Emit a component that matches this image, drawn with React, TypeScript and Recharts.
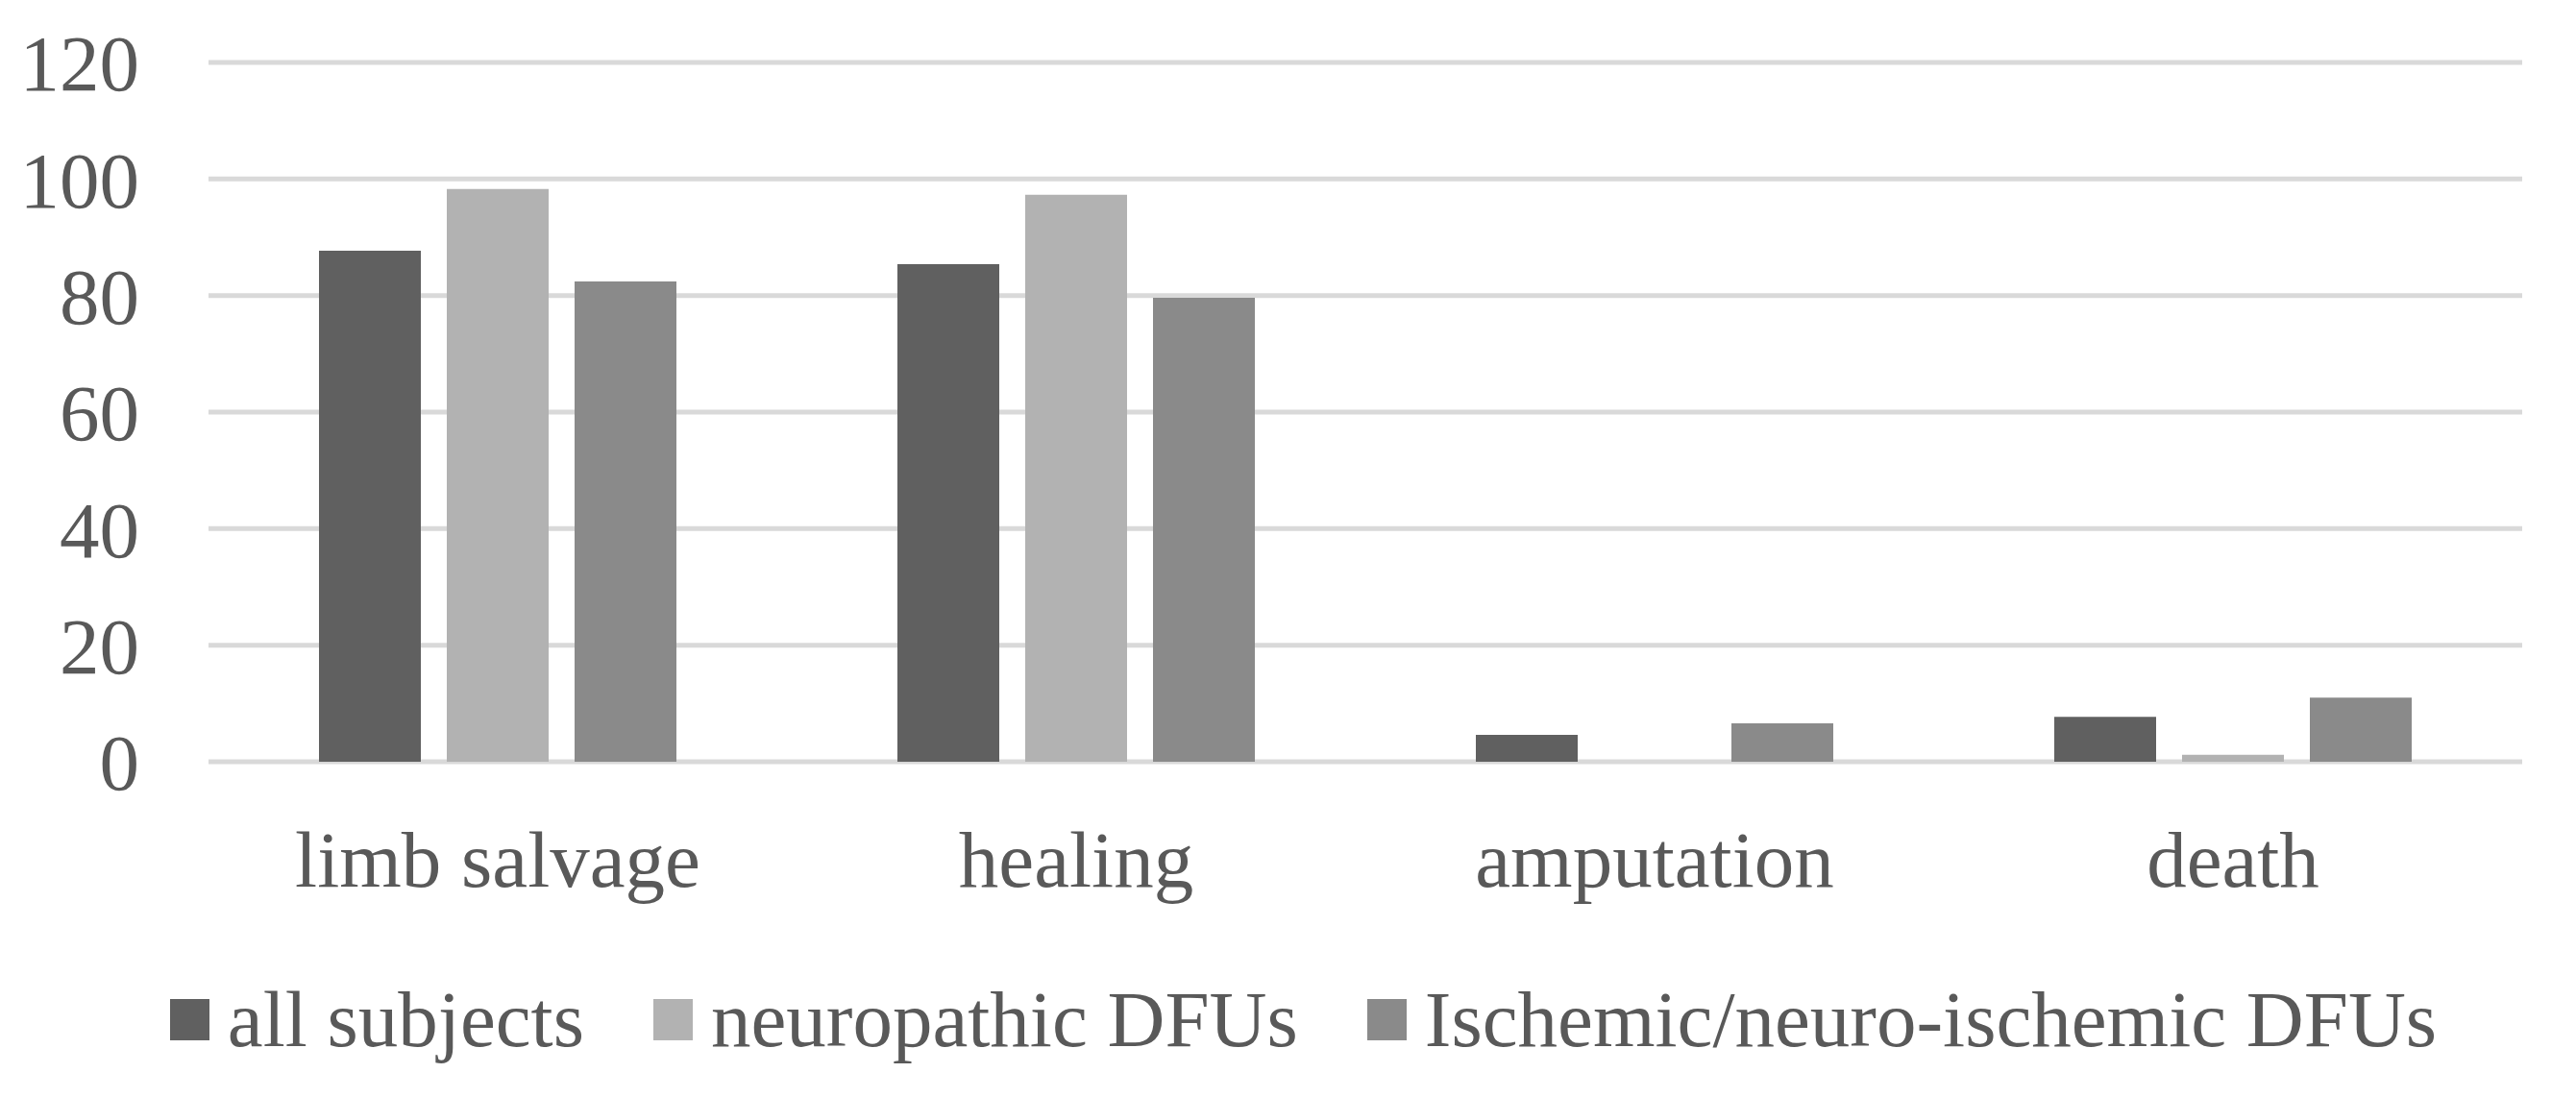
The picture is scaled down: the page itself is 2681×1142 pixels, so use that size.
import React from 'react';
import { Bar, BarChart, CartesianGrid, Legend, XAxis, YAxis } from 'recharts';

const categories = ['limb salvage', 'healing', 'amputation', 'death'];
const allSubjects = [87.7, 85.4, 4.6, 7.7];
const neuropathic = [98.3, 97.3, 0, 1.2];
const ischemic = [82.4, 79.6, 6.6, 11.0];
const yTicks = [0, 20, 40, 60, 80, 100, 120];
const seriesOrder = ['all', 'neuro', 'isch'];

const data = categories.map((name, i) => ({
  name,
  all: allSubjects[i],
  neuro: neuropathic[i],
  isch: ischemic[i],
}));

const FONT = '"Liberation Serif", "Times New Roman", serif';
const TEXT = '#595959';

const renderLegend = (props: any) => {
  const payload = [...(props.payload || [])].sort(
    (a: any, b: any) => seriesOrder.indexOf(a.dataKey) - seriesOrder.indexOf(b.dataKey)
  );
  return (
    <div style={{ display: 'flex', justifyContent: 'center', alignItems: 'center', height: 56 }}>
      {payload.map((entry: any, i: number) => (
        <div
          key={entry.value}
          style={{ display: 'flex', alignItems: 'center', marginLeft: i === 0 ? 0 : 72 }}
        >
          <span style={{ display: 'inline-block', width: 41, height: 43, background: entry.color, marginRight: 19 }} />
          <span style={{ fontFamily: FONT, fontSize: 83, color: TEXT, lineHeight: '56px', whiteSpace: 'nowrap' }}>
            {entry.value}
          </span>
        </div>
      ))}
    </div>
  );
};

const App = () => {
  return (
    <div style={{ position: 'absolute', left: 0, top: 0, background: '#fff' }}>
      <BarChart
        width={2681}
        height={1142}
        data={data}
        margin={{ top: 65, right: 56, left: 0, bottom: 30 }}
        barSize={106}
        barGap={27}
      >
        <CartesianGrid horizontal vertical={false} stroke="#d9d9d9" strokeWidth={5} />
        <XAxis
          dataKey="name"
          axisLine={false}
          tickLine={false}
          tickSize={0}
          tickMargin={71}
          height={259}
          interval={0}
          tick={{ fontFamily: FONT, fontSize: 83, fill: TEXT }}
        />
        <YAxis
          domain={[0, 120]}
          ticks={yTicks}
          axisLine={false}
          tickLine={false}
          tickSize={0}
          tickMargin={72}
          width={217}
          interval={0}
          tick={{ fontFamily: FONT, fontSize: 83, fill: TEXT }}
        />
        <Legend
          verticalAlign="bottom"
          height={60}
          content={renderLegend}
          wrapperStyle={{ top: 1033, left: 16, width: 2681, bottom: 'auto' }}
        />
        <Bar dataKey="all" name="all subjects" fill="#606060" isAnimationActive={false} />
        <Bar dataKey="neuro" name="neuropathic DFUs" fill="#b2b2b2" isAnimationActive={false} />
        <Bar dataKey="isch" name="Ischemic/neuro-ischemic DFUs" fill="#8a8a8a" isAnimationActive={false} />
      </BarChart>
    </div>
  );
};

export default App;
